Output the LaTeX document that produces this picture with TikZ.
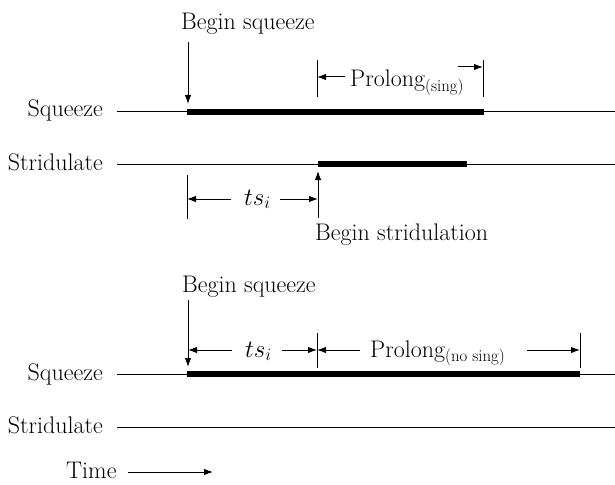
\documentclass[tikz,border=0pt]{standalone}
\usetikzlibrary{arrows.meta}
\begin{document}
\begin{tikzpicture}[x=1pt,y=-1pt,
  lbl/.style={inner sep=0pt,font=\fontsize{24}{28}\selectfont},
  thin line/.style={line width=1pt},
  bar/.style={line width=5.5pt},
  arr/.style={line width=1pt,-{Latex[length=9pt,width=6.5pt]}},
  tick/.style={line width=1pt}]
\useasboundingbox (0,0) rectangle (615,484);
% ---------- top panel ----------
\node[lbl,anchor=base east] (sq1) at (103,117) {Squeeze};
\node[lbl,anchor=base east] (st1) at (103,170) {Stridulate};
\coordinate (sq1a) at (117,112); \coordinate (sq1b) at (615,112);
\coordinate (st1a) at (117,164); \coordinate (st1b) at (615,164);
\draw[thin line] (sq1a) -- (sq1b);
\draw[thin line] (st1a) -- (st1b);
\coordinate (bar1a) at (187,112); \coordinate (bar1b) at (484,112);
\draw[bar] (bar1a) -- (bar1b);
\coordinate (bar2a) at (318,164); \coordinate (bar2b) at (467,164);
\draw[bar] (bar2a) -- (bar2b);
\node[lbl,anchor=base west] (bs1) at (181,30) {Begin squeeze};
\coordinate (bs1t) at (188,42); \coordinate (bs1h) at (188,104);
\draw[arr] (bs1t) -- (bs1h);
% prolong sing
\coordinate (p1a) at (317,60); \coordinate (p1b) at (317,97);
\coordinate (p2a) at (483,60); \coordinate (p2b) at (483,97);
\draw[tick] (p1a) -- (p1b); \draw[tick] (p2a) -- (p2b);
\node[lbl,anchor=base west] (pr1) at (350,87) {Prolong\textsubscript{(sing)}};
\coordinate (pl1s) at (345,77); \coordinate (pl1e) at (317,77);
\draw[arr] (pl1s) -- (pl1e);
\coordinate (pr1s) at (458,67); \coordinate (pr1e) at (483,67);
\draw[arr] (pr1s) -- (pr1e);
% ts_i top
\coordinate (t1a) at (187,175); \coordinate (t1b) at (187,219);
\draw[tick] (t1a) -- (t1b);
\node[lbl,anchor=base west] (ts1) at (244,205) {$ts_i$};
\coordinate (tl1s) at (231,199); \coordinate (tl1e) at (187,199);
\draw[arr] (tl1s) -- (tl1e);
\coordinate (tr1s) at (280,199); \coordinate (tr1e) at (318,199);
\draw[arr] (tr1s) -- (tr1e);
\coordinate (bst1) at (318,218); \coordinate (bst2) at (318,171);
\draw[arr] (bst1) -- (bst2);
\node[lbl,anchor=base west] (bstr) at (315,240) {Begin stridulation};
% ---------- bottom panel ----------
\node[lbl,anchor=base east] (sq2) at (103,380) {Squeeze};
\node[lbl,anchor=base east] (st2) at (103,433) {Stridulate};
\coordinate (sq2a) at (117,374) ; \coordinate (sq2b) at (615,374);
\coordinate (st2a) at (117,427); \coordinate (st2b) at (615,427);
\draw[thin line] (sq2a) -- (sq2b);
\draw[thin line] (st2a) -- (st2b);
\coordinate (bar3a) at (187,374); \coordinate (bar3b) at (580,374);
\draw[bar] (bar3a) -- (bar3b);
\node[lbl,anchor=base west] (bs2) at (182,292) {Begin squeeze};
\coordinate (bs2t) at (188,300); \coordinate (bs2h) at (188,367);
\draw[arr] (bs2t) -- (bs2h);
\coordinate (q1a) at (317,333); \coordinate (q1b) at (317,368);
\coordinate (q2a) at (580,333); \coordinate (q2b) at (580,368);
\draw[tick] (q1a) -- (q1b); \draw[tick] (q2a) -- (q2b);
\node[lbl,anchor=base west] (ts2) at (245,357) {$ts_i$};
\coordinate (tl2s) at (232,350); \coordinate (tl2e) at (188,350);
\draw[arr] (tl2s) -- (tl2e);
\coordinate (tr2s) at (282,350); \coordinate (tr2e) at (317,350);
\draw[arr] (tr2s) -- (tr2e);
\node[lbl,anchor=base west] (pr2) at (370,357) {Prolong\textsubscript{(no sing)}};
\coordinate (pl2s) at (360,350); \coordinate (pl2e) at (317,350);
\draw[arr] (pl2s) -- (pl2e);
\coordinate (pr2s) at (527,350); \coordinate (pr2e) at (580,350);
\draw[arr] (pr2s) -- (pr2e);
% time
\node[lbl,anchor=base west] (time) at (66,478) {Time};
\coordinate (ta) at (128,472); \coordinate (tb) at (213,472);
\draw[arr] (ta) -- (tb);
\end{tikzpicture}
\end{document}
